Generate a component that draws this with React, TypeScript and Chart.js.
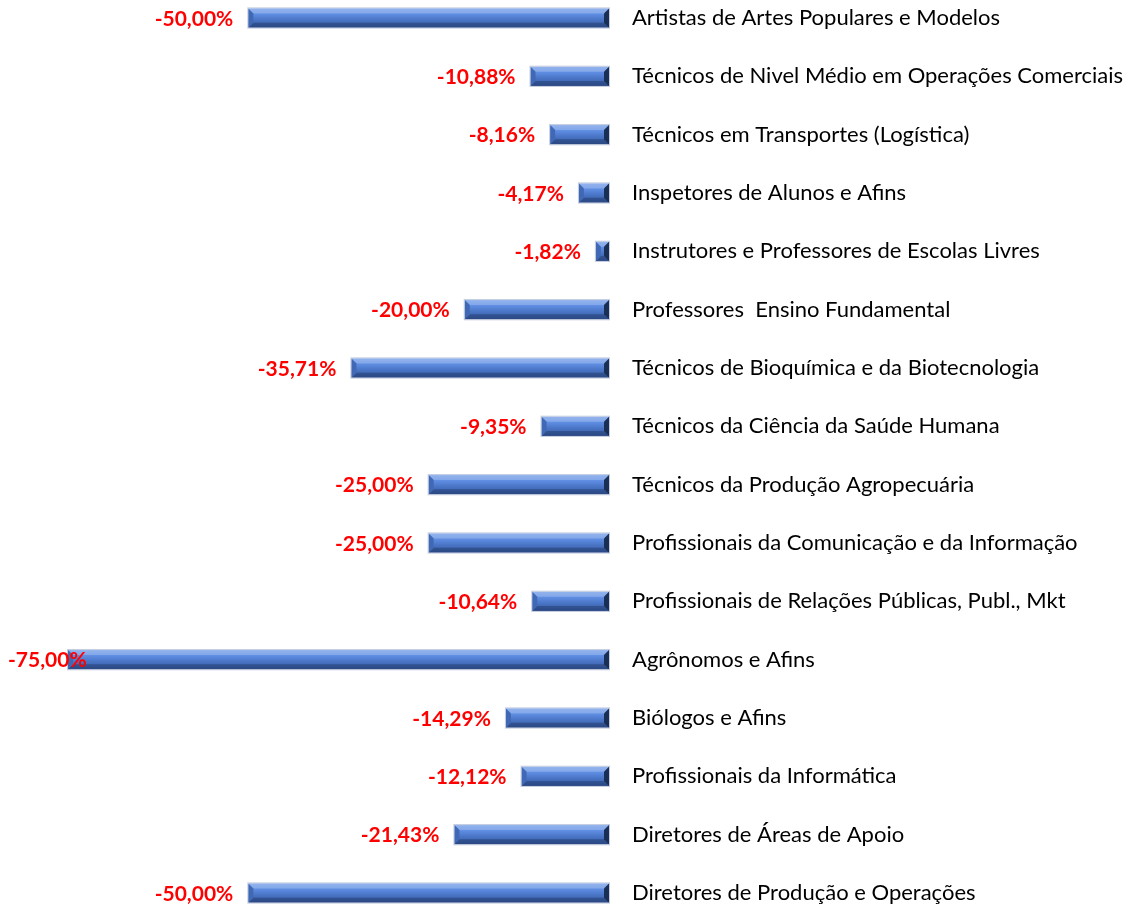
import React, { useEffect, useRef } from "react";
import { Chart, registerables } from "chart.js";

Chart.register(...registerables);

const categories = [
  "Artistas de Artes Populares e Modelos",
  "Técnicos de Nivel Médio em Operações Comerciais",
  "Técnicos em Transportes (Logística)",
  "Inspetores de Alunos e Afins",
  "Instrutores e Professores de Escolas Livres",
  "Professores  Ensino Fundamental",
  "Técnicos de Bioquímica e da Biotecnologia",
  "Técnicos da Ciência da Saúde Humana",
  "Técnicos da Produção Agropecuária",
  "Profissionais da Comunicação e da Informação",
  "Profissionais de Relações Públicas, Publ., Mkt",
  "Agrônomos e Afins",
  "Biólogos e Afins",
  "Profissionais da Informática",
  "Diretores de Áreas de Apoio",
  "Diretores de Produção e Operações",
];

const values = [
  -50.0, -10.88, -8.16, -4.17, -1.82, -20.0, -35.71, -9.35, -25.0, -25.0, -10.64, -75.0, -14.29, -12.12, -21.43, -50.0,
];

const FONT = "Lato, 'Open Sans', sans-serif";

const bevelPlugin = {
  id: "bevel",
  afterDatasetsDraw(chart: any) {
    const ctx = chart.ctx;
    const meta = chart.getDatasetMeta(0);
    meta.data.forEach((bar: any, i: number) => {
      const { x, y, base, height } = bar.getProps(["x", "y", "base", "height"], true);
      const left = Math.min(x, base);
      const right = Math.max(x, base);
      const top = y - height / 2;
      const bottom = y + height / 2;
      const w = right - left;
      const h = bottom - top;
      const b = Math.min(5, w / 2, h / 2);
      ctx.save();
      const g = ctx.createLinearGradient(0, top, 0, bottom);
      g.addColorStop(0, "#7ea6ec");
      g.addColorStop(0.3, "#5f8de2");
      g.addColorStop(0.6, "#4a75c6");
      g.addColorStop(1, "#34569a");
      ctx.fillStyle = g;
      ctx.fillRect(left, top, w, h);
      ctx.fillStyle = "rgba(170,195,240,0.45)";
      ctx.beginPath();
      ctx.moveTo(left, top);
      ctx.lineTo(right, top);
      ctx.lineTo(right - b, top + b);
      ctx.lineTo(left + b, top + b);
      ctx.closePath();
      ctx.fill();
      ctx.fillStyle = "rgba(30,55,105,0.45)";
      ctx.beginPath();
      ctx.moveTo(left, bottom);
      ctx.lineTo(right, bottom);
      ctx.lineTo(right - b, bottom - b);
      ctx.lineTo(left + b, bottom - b);
      ctx.closePath();
      ctx.fill();
      ctx.fillStyle = "#4068b4";
      ctx.beginPath();
      ctx.moveTo(left, top);
      ctx.lineTo(left + b, top + b);
      ctx.lineTo(left + b, bottom - b);
      ctx.lineTo(left, bottom);
      ctx.closePath();
      ctx.fill();
      ctx.fillStyle = "#1a2f55";
      ctx.beginPath();
      ctx.moveTo(right, top);
      ctx.lineTo(right - b, top + b);
      ctx.lineTo(right - b, bottom - b);
      ctx.lineTo(right, bottom);
      ctx.closePath();
      ctx.fill();
      ctx.strokeStyle = "rgba(190,200,220,0.9)";
      ctx.lineWidth = 1;
      ctx.strokeRect(left - 0.5, top - 0.5, w + 1, h + 1);
      ctx.restore();

      const v = values[i];
      const txt = v.toFixed(2).replace(".", ",") + "%";
      ctx.save();
      ctx.font = "bold 21px " + FONT;
      ctx.fillStyle = "#ff0000";
      ctx.textBaseline = "middle";
      ctx.textAlign = "right";
      const tw = ctx.measureText(txt).width;
      const tx = Math.max(left - 15, tw + 8);
      ctx.fillText(txt, tx, y + 1);
      ctx.restore();
    });
  },
};

export default function App() {
  const ref = useRef<HTMLCanvasElement>(null);
  useEffect(() => {
    if (!ref.current) return;
    const chart = new Chart(ref.current, {
      type: "bar",
      data: {
        labels: categories,
        datasets: [
          {
            data: values,
            backgroundColor: "rgba(0,0,0,0)",
            borderWidth: 0,
            categoryPercentage: 1,
            barPercentage: 0.33,
            clip: false as any,
          },
        ],
      },
      options: {
        indexAxis: "y",
        animation: false,
        responsive: false,
        maintainAspectRatio: false,
        layout: { padding: { left: 68, top: 18, bottom: 13, right: 0 } },
        plugins: { legend: { display: false }, tooltip: { enabled: false } },
        scales: {
          x: { display: false, min: -75, max: 0 },
          y: {
            position: "right",
            offset: false,
            grid: { display: false },
            border: { display: false },
            ticks: {
              padding: 15,
              color: "#000000",
              font: { family: FONT, size: 22 },
              autoSkip: false,
            },
            afterFit(scale: any) {
              scale.width = 1131 - 609;
              scale.paddingTop = 0;
              scale.paddingBottom = 0;
            },
          },
        },
      },
      plugins: [bevelPlugin],
    });
    return () => chart.destroy();
  }, []);
  return (
    <div style={{ position: "fixed", left: 0, top: 0, width: 1131, height: 906, background: "#fff" }}>
      <canvas ref={ref} width={1131} height={906} style={{ width: 1131, height: 906 }} />
    </div>
  );
}
